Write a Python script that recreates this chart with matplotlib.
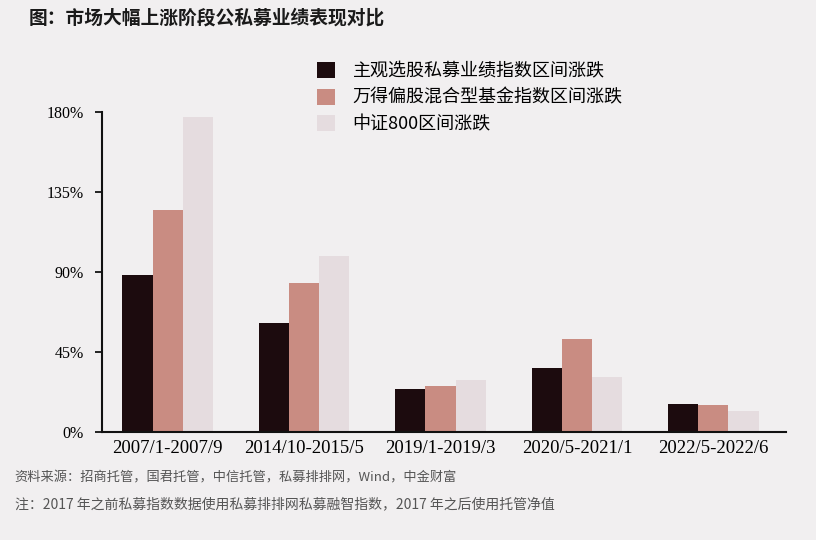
import numpy as np
import matplotlib.pyplot as plt

plt.rcParams['font.family'] = ['Noto Sans CJK SC', 'DejaVu Sans']

# 数据
periods = ['2007/1-2007/9', '2014/10-2015/5', '2019/1-2019/3', '2020/5-2021/1', '2022/5-2022/6']
private_fund = [88, 61, 24, 36, 16]
wind_mixed = [125, 84, 26, 52, 15]
csi800 = [177, 99, 29, 31, 12]
series_names = ['主观选股私募业绩指数区间涨跌', '万得偏股混合型基金指数区间涨跌', '中证800区间涨跌']
yticks = [0, 45, 90, 135, 180]

colors = ['#1c0b0e', '#c98c82', '#e5dcdf']
bg = '#f1eff0'

fig = plt.figure(figsize=(8.16, 5.4), dpi=100, facecolor=bg)
ax = fig.add_axes([0.125, 0.2, 0.838, 0.593], facecolor=bg)

x = np.arange(len(periods))
w = 0.22
bars = []
for i, (vals, c) in enumerate(zip([private_fund, wind_mixed, csi800], colors)):
    b = ax.bar(x + (i - 1) * w, vals, width=w, color=c, linewidth=0)
    bars.append(b)

ax.set_xlim(-0.48, 4.53)
ax.set_ylim(0, 180)
ax.set_yticks(yticks)
ax.set_yticklabels([f'{v}%' for v in yticks], family='Liberation Serif', fontsize=11.5)
ax.set_xticks(x)
ax.set_xticklabels(periods, family='Liberation Serif', fontsize=13.5)
ax.tick_params(axis='x', length=0, pad=6)
ax.tick_params(axis='y', length=5, width=1.2, direction='out', pad=8)
for s in ['top', 'right']:
    ax.spines[s].set_visible(False)
for s in ['left', 'bottom']:
    ax.spines[s].set_linewidth(1.5)
    ax.spines[s].set_color('#111111')

fig.legend(bars, series_names, loc='upper left', bbox_to_anchor=(0.368, 0.915),
           frameon=False, fontsize=13, handlelength=1.0, handleheight=1.0,
           handletextpad=1.0, labelspacing=0.45)

fig.text(0.035, 0.966, '图：市场大幅上涨阶段公私募业绩表现对比', fontsize=13.5,
         fontweight='bold', va='center', color='#1a1a1a')
fig.text(0.018, 0.115, '资料来源：招商托管，国君托管，中信托管，私募排排网，Wind，中金财富',
         fontsize=9.5, color='#555555', va='center')
fig.text(0.018, 0.066, '注：2017 年之前私募指数数据使用私募排排网私募融智指数，2017 年之后使用托管净值',
         fontsize=10, color='#555555', va='center')

fig.savefig('out.png', dpi=100, facecolor=bg)
